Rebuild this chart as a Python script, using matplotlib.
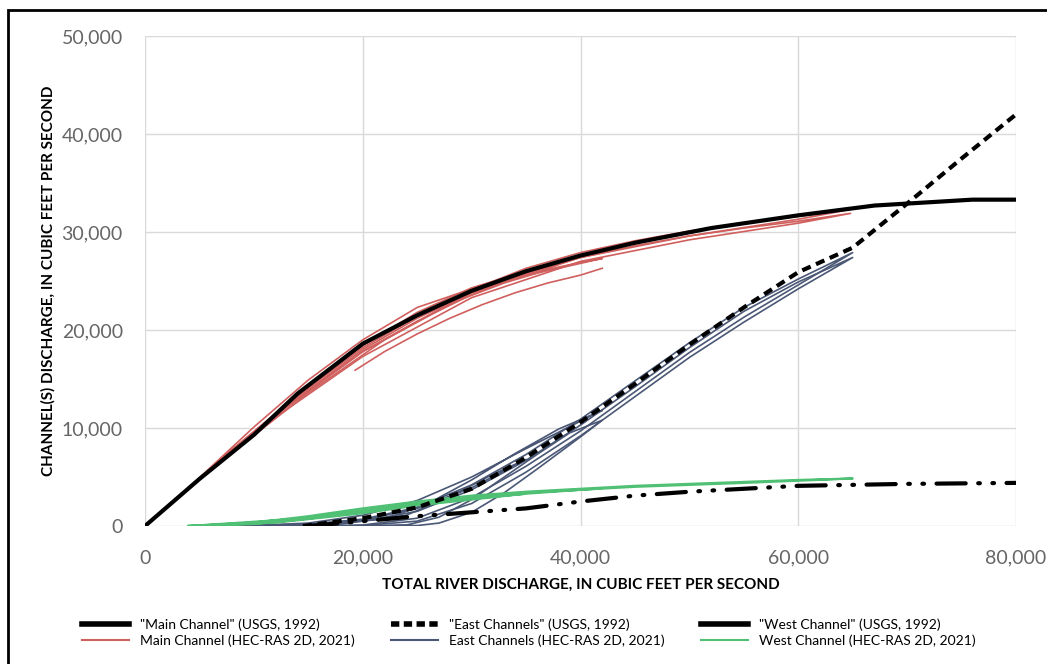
import numpy as np
import matplotlib.pyplot as plt
from matplotlib.lines import Line2D
from matplotlib.ticker import FuncFormatter

plt.rcParams['font.family'] = ['Lato', 'DejaVu Sans']

# USGS 1992 rating curves
usgs_x = [0, 5000, 10000, 14000, 20000, 25000, 30000, 35000, 40000, 45000,
          52000, 60000, 67000, 76000, 80000]
usgs_main = [0, 4800, 9300, 13500, 18600, 21500, 24000, 26000, 27600, 28900,
             30400, 31700, 32700, 33300, 33300]

east_usgs_x = [14500, 20000, 25000, 30000, 35000, 40000, 45000, 50000, 55000,
               60000, 65000, 70000, 75000, 80000]
east_usgs = [0, 800, 1900, 3800, 7000, 10600, 14500, 18500, 22300, 25900,
             28400, 32900, 37500, 42000]

west_usgs_x = [15000, 20000, 25000, 30000, 35000, 40000, 45000, 50000, 55000,
               60000, 65000, 70000, 80000]
west_usgs = [0, 500, 1000, 1400, 1800, 2500, 3100, 3500, 3800, 4100, 4200,
             4300, 4400]

# HEC-RAS 2D 2021 loops (rising then falling limbs)
main_hec_x = [
    [4000, 8000, 12000, 16000, 20000, 25000, 30000, 35000, 40000, 45000, 50000,
     55000, 60000, 64800, 60000, 50000, 40000, 30000, 20000, 12000, 4000],
    [4000, 8000, 12000, 16000, 20000, 25000, 30000, 35000, 40000, 45000, 50000,
     55000, 60000, 64800, 60000, 50000, 40000, 30000, 20000, 12000, 4000],
    [4000, 8000, 12000, 16000, 20000, 25000, 30000, 35000, 40000, 42000, 38000,
     34000, 30000, 25000, 20000, 15000, 10000, 4000],
    [19300, 22000, 25000, 28000, 31000, 34000, 37000, 40000, 42000],
    [4000, 10000, 15000, 20000, 25000, 30000, 35000, 38000, 36000, 33000, 28000,
     22000, 15000, 8000, 4000],
]
main_hec_y = [
    [3900, 7800, 11500, 14900, 18200, 21400, 24100, 26300, 27900, 29100, 30100,
     30900, 31600, 32300, 31300, 29600, 27400, 23800, 17800, 11300, 3900],
    [3900, 7700, 11300, 14600, 17800, 20900, 23600, 25800, 27400, 28600, 29600,
     30400, 31100, 31900, 30900, 29200, 27000, 23300, 17300, 11100, 3900],
    [3900, 7800, 11400, 14700, 18000, 21200, 23800, 25700, 26900, 27300, 26300,
     25300, 24200, 22300, 19000, 14900, 10100, 3900],
    [15900, 17800, 19600, 21200, 22600, 23800, 24800, 25600, 26300],
    [3900, 9600, 14200, 18400, 21800, 24300, 26000, 26700, 25800, 24800, 22700,
     19000, 13600, 7500, 3900],
]

east_hec_x = [
    [4000, 10000, 15000, 20000, 25000, 30000, 35000, 40000, 45000, 50000, 55000,
     60000, 65000, 60000, 55000, 50000, 45000, 40000, 35000, 30000, 25000, 20000,
     15000, 10000, 4000],
    [4000, 10000, 15000, 20000, 25000, 30000, 35000, 40000, 45000, 50000, 55000,
     60000, 65000, 60000, 55000, 50000, 45000, 40000, 35000, 30000, 25000, 20000,
     15000, 10000, 4000],
    [4000, 10000, 15000, 20000, 25000, 30000, 35000, 40000, 42000, 38000, 34000,
     30000, 26000, 22000, 15000, 4000],
    [4000, 15000, 20000, 25000, 27000, 30000, 33000, 36000, 40000, 42000, 39000,
     36000, 33000, 30000, 27000, 24000, 18000, 4000],
    [4000, 15000, 20000, 25000, 30000, 35000, 32000, 28000, 24000, 18000, 4000],
]
east_hec_y = [
    [0, 50, 200, 700, 1900, 4200, 7300, 10900, 14800, 18700, 22300, 25200, 27900,
     24600, 21300, 17700, 13700, 9700, 6100, 2900, 800, 100, 0, 0, 0],
    [0, 30, 150, 500, 1500, 3700, 6700, 10300, 14200, 18200, 21900, 24900, 27400,
     24200, 20800, 17200, 13200, 9200, 5500, 2300, 500, 50, 0, 0, 0],
    [0, 60, 300, 1100, 2600, 5000, 7900, 10700, 11800, 9900, 7400, 4700, 2300,
     700, 100, 0],
    [0, 0, 0, 50, 300, 1400, 3400, 5800, 9100, 10800, 9500, 7300, 5000, 2700,
     900, 100, 0, 0],
    [0, 100, 600, 1800, 3900, 6800, 5300, 3000, 1100, 200, 0],
]

west_hec_x = [
    [4000, 10000, 15000, 20000, 25000, 30000, 35000, 40000, 45000, 50000, 55000,
     60000, 65000, 55000, 45000, 35000, 25000, 15000, 4000],
    [4000, 10000, 15000, 20000, 25000, 30000, 35000, 40000, 42000, 35000, 28000,
     20000, 12000, 4000],
    [4000, 10000, 15000, 20000, 25000, 30000, 35000, 30000, 25000, 20000, 12000,
     4000],
]
west_hec_y = [
    [0, 350, 1000, 1800, 2500, 3100, 3500, 3800, 4100, 4300, 4500, 4700, 4850,
     4400, 4000, 3400, 2300, 800, 0],
    [0, 250, 850, 1600, 2300, 2900, 3400, 3700, 3850, 3300, 2600, 1400, 400, 0],
    [0, 200, 750, 1450, 2200, 2800, 3300, 2700, 2100, 1300, 350, 0],
]

red = '#d0605e'
blue = '#4a5876'
green = '#4fc074'

fig = plt.figure(figsize=(10.47, 6.64), dpi=100)
ax = fig.add_axes([0.1385, 0.2078, 0.8319, 0.738])

for xs, ys in zip(main_hec_x, main_hec_y):
    ax.plot(xs, ys, color=red, lw=1.2, zorder=3)
for xs, ys in zip(east_hec_x, east_hec_y):
    ax.plot(xs, ys, color=blue, lw=1.2, zorder=3)
for xs, ys in zip(west_hec_x, west_hec_y):
    ax.plot(xs, ys, color=green, lw=1.6, zorder=3)

ax.plot(usgs_x, usgs_main, color='black', lw=3, zorder=4, solid_capstyle='round')
ax.plot(east_usgs_x, east_usgs, color='black', lw=3, ls=(0, (2.2, 1.4)), zorder=4)
ax.plot(west_usgs_x, west_usgs, color='black', lw=3,
        ls=(0, (7, 3, 0.4, 3, 0.4, 3)), zorder=4, dash_capstyle='round')

ax.set_xlim(0, 80000)
ax.set_ylim(0, 50000)
ax.set_xticks([0, 20000, 40000, 60000, 80000])
ax.set_yticks(np.arange(0, 50001, 10000))
fmt = FuncFormatter(lambda v, p: f'{int(v):,}')
ax.xaxis.set_major_formatter(fmt)
ax.yaxis.set_major_formatter(fmt)
ax.tick_params(length=0, labelsize=14, labelcolor='#666666')
ax.tick_params(axis='y', pad=16)
ax.tick_params(axis='x', pad=17)
ax.grid(True, color='#d9d9d9', lw=1)
for s in ax.spines.values():
    s.set_visible(False)
ax.set_axisbelow(True)

ax.set_xlabel('TOTAL RIVER DISCHARGE, IN CUBIC FEET PER SECOND',
              fontsize=11, fontweight='bold', labelpad=8)
ax.set_ylabel('CHANNEL(S) DISCHARGE, IN CUBIC FEET PER SECOND',
              fontsize=11, fontweight='bold', labelpad=4)

handles = [
    Line2D([], [], color='black', lw=4),
    Line2D([], [], color=red, lw=1.5),
    Line2D([], [], color='black', lw=4, ls=(0, (1.5, 0.8))),
    Line2D([], [], color=blue, lw=1.5),
    Line2D([], [], color='black', lw=4),
    Line2D([], [], color=green, lw=1.5),
]
labels = ['"Main Channel" (USGS, 1992)', 'Main Channel (HEC-RAS 2D, 2021)',
          '"East Channels" (USGS, 1992)', 'East Channels (HEC-RAS 2D, 2021)',
          '"West Channel" (USGS, 1992)', 'West Channel (HEC-RAS 2D, 2021)']
fig.legend(handles, labels, ncol=3, loc='upper center',
           bbox_to_anchor=(0.505, 0.088), frameon=False, fontsize=10,
           handlelength=3.4, columnspacing=2.6, labelspacing=0.25)

fig.add_artist(plt.Rectangle((0.0076, -0.01), 1.1, 0.995,
                             transform=fig.transFigure, fill=False,
                             lw=2, ec='black'))

fig.savefig('out.png', dpi=100)
